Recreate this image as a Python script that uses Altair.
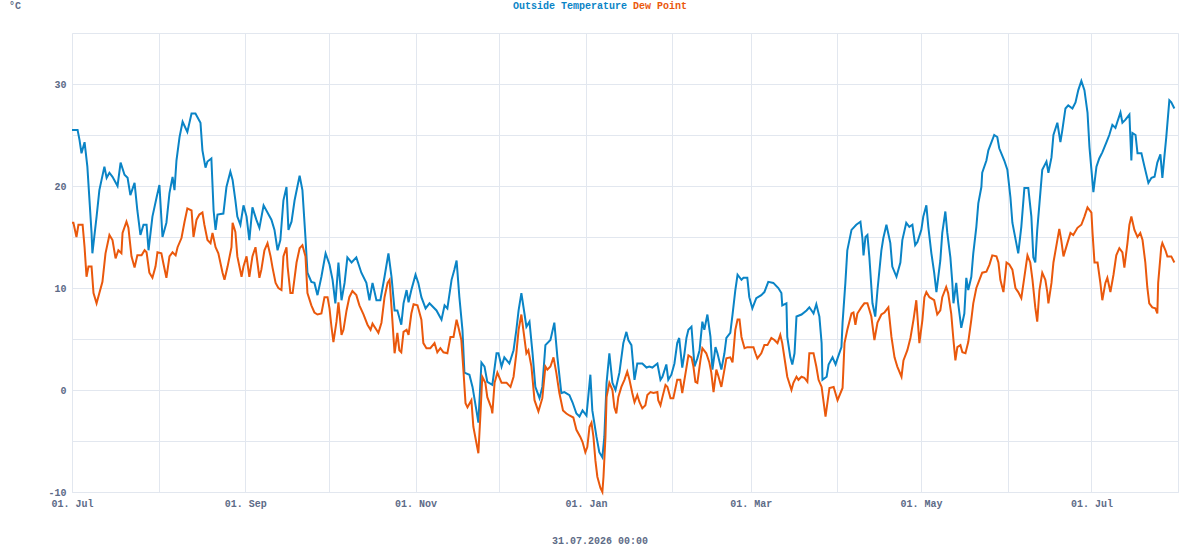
import altair as alt
import pandas as pd

# Outside temperature: day offset from 1 Jul 2025, value in °C
temp_days = [0, 0.5, 2.0, 2.7, 3.4, 4.5, 5.5, 7.0, 7.3, 8.8, 9.8, 11.6, 12.4, 13.4, 14.5, 16.3, 17.4, 18.8, 19.9,
             20.9, 22.4, 23.4, 24.5, 25.6, 26.7, 27.4, 28.8, 30.3, 31.3, 32.4, 33.8, 34.9, 36.0, 36.7, 37.4, 38.5,
             39.6, 41.3, 42.8, 44.2, 46.0, 46.7, 47.8, 48.5, 49.9, 50.7, 51.4, 52.1, 54.2, 55.3, 56.7, 57.5, 58.5,
             59.2, 60.3, 61.4, 62.5, 63.5, 64.6, 66.0, 67.1, 68.6, 71.4, 72.5, 73.6, 74.6, 75.7, 76.8, 77.5, 78.6,
             79.7, 81.5, 82.5, 83.6, 84.3, 85.7, 86.8, 87.9, 89.3, 90.8, 92.2, 93.3, 94.3, 95.4, 96.5, 97.6, 98.6,
             100.1, 101.8, 103.6, 105.4, 106.5, 107.6, 109.0, 110.4, 111.9, 113.3, 114.4, 115.5, 116.5, 117.9,
             118.7, 119.8, 120.5, 121.5, 123.0, 124.0, 125.1, 126.6, 128.0, 130.5, 132.3, 133.4, 134.4, 135.9,
             136.9, 137.7, 138.7, 139.8, 140.5, 142.3, 143.4, 144.8, 145.5, 146.6, 147.7, 148.7, 150.5, 152.0,
             152.7, 153.8, 154.8, 156.6, 158.1, 159.1, 159.9, 160.9, 162.0, 162.7, 163.8, 164.9, 165.9, 167.4,
             168.4, 169.5, 171.3, 172.7, 173.8, 175.2, 176.3, 178.1, 179.2, 180.6, 181.7, 182.8, 184.2, 185.6,
             186.3, 187.8, 188.8, 189.9, 190.6, 191.4, 192.4, 193.5, 194.6, 196.0, 197.4, 198.5, 199.2, 200.3,
             201.4, 202.4, 204.2, 205.7, 206.7, 207.8, 209.6, 210.7, 211.4, 212.8, 213.5, 214.6, 215.7, 216.7,
             217.4, 218.5, 219.3, 220.0, 220.7, 221.8, 222.9, 223.9, 224.7, 225.7, 226.4, 227.5, 228.6, 229.3,
             230.4, 231.1, 232.5, 233.6, 234.3, 235.7, 236.5, 237.5, 238.3, 239.7, 240.4, 241.8, 242.5, 243.6,
             245.0, 246.8, 247.9, 249.3, 251.1, 252.9, 254.0, 254.3, 255.8, 256.1, 257.2, 257.9, 258.7, 259.4,
             261.2, 263.0, 264.0, 264.8, 265.5, 266.5, 267.6, 268.4, 268.7, 270.2, 270.9, 272.3, 273.4, 274.1,
             275.5, 275.9, 276.9, 277.6, 279.1, 280.8, 282.3, 283.0, 283.4, 284.1, 284.8, 285.5, 286.6, 287.6,
             288.4, 289.8, 290.5, 291.6, 293.0, 293.7, 295.2, 296.6, 297.3, 298.7, 299.8, 300.9, 301.9, 302.7,
             304.1, 304.8, 305.9, 306.6, 307.7, 308.7, 309.5, 310.9, 311.6, 312.7, 313.4, 314.5, 315.2, 315.6,
             316.6, 317.3, 318.4, 319.5, 320.2, 320.9, 322.0, 322.7, 323.8, 324.5, 325.6, 325.9, 327.4, 328.1,
             330.2, 331.3, 332.0, 333.8, 334.9, 336.0, 336.7, 338.1, 338.8, 339.9, 341.0, 342.4, 343.5, 344.2,
             344.9, 345.6, 346.4, 347.4, 348.9, 349.6, 350.7, 351.4, 352.8, 353.9, 354.6, 355.7, 356.7, 358.2,
             359.3, 360.3, 361.4, 362.5, 363.6, 364.3, 365.0, 365.7, 366.8, 367.8, 368.9, 370.4, 371.4, 372.5,
             373.6, 374.3, 375.4, 376.1, 377.2, 378.6, 379.3, 379.7, 380.8, 381.5, 382.9, 384.0, 385.4, 386.5,
             387.6, 388.6, 389.7, 390.4, 391.1, 391.8, 392.9, 393.6, 394.7]
temp_vals = [25.5, 25.5, 25.5, 24.5, 23.2, 24.3, 21.9, 15.4, 13.4, 17.0, 19.6, 21.9, 20.8, 21.3, 20.9, 20.0, 22.3,
             21.1, 20.8, 19.1, 20.3, 17.6, 15.2, 16.2, 16.2, 13.7, 17.0, 18.9, 20.1, 15.0, 16.4, 19.3, 20.9, 19.6,
             22.5, 24.8, 26.3, 25.3, 27.1, 27.1, 26.2, 23.5, 21.8, 22.4, 22.7, 17.6, 15.7, 17.2, 17.3, 19.9, 21.4,
             20.6, 18.6, 17.0, 16.2, 18.1, 17.0, 14.7, 17.9, 16.7, 15.9, 18.1, 16.7, 15.7, 13.7, 14.7, 18.6, 19.9,
             15.7, 16.5, 18.6, 21.0, 19.6, 14.9, 11.5, 10.6, 10.5, 9.3, 11.1, 13.4, 12.3, 10.8, 8.5, 12.5, 8.8,
             10.5, 13.0, 12.5, 13.0, 11.5, 10.5, 8.8, 10.5, 8.8, 8.8, 11.1, 13.4, 11.1, 7.8, 7.8, 6.4, 8.5, 9.8,
             8.6, 9.8, 11.3, 10.5, 9.1, 8.0, 8.5, 7.8, 6.9, 8.3, 8.0, 10.8, 11.8, 12.7, 9.1, 5.9, 1.7, 1.5, 0.3,
             -2.0, -3.2, 2.7, 2.3, 0.8, 0.5, 3.6, 3.6, 2.3, 3.2, 2.6, 3.9, 5.9, 7.8, 9.5, 7.5, 6.2, 6.7, 3.6, 0.3,
             -0.8, 0.3, 4.4, 4.9, 6.6, 3.2, -0.3, -0.2, -0.5, -1.2, -2.3, -2.6, -2.0, -2.5, 1.5, -2.0, -4.6, -6.1,
             -6.6, -4.6, 0.7, 3.6, 0.7, 0.0, 1.7, 4.6, 5.7, 4.9, 4.4, 1.0, 2.6, 2.6, 2.2, 2.3, 2.2, 2.6, 1.0, 1.3,
             2.5, 1.0, 1.5, 2.6, 4.6, 5.1, 2.2, 3.6, 5.1, 5.9, 6.2, 2.3, 3.1, 3.9, 6.7, 5.9, 7.4, 5.2, 2.0, 4.2,
             3.6, 2.0, 3.6, 5.1, 5.6, 7.4, 9.8, 11.3, 10.8, 11.0, 11.0, 9.1, 8.0, 9.0, 9.3, 9.6, 10.6, 10.5, 10.0,
             9.5, 8.3, 8.5, 5.2, 3.2, 2.5, 3.6, 7.2, 7.4, 7.8, 8.1, 7.8, 7.5, 8.4, 7.2, 4.6, 1.0, 1.3, 2.5, 3.2,
             2.5, 3.1, 4.2, 6.6, 10.5, 13.7, 15.7, 16.2, 16.5, 14.9, 13.2, 15.0, 15.2, 13.0, 8.5, 7.2, 9.8, 13.7,
             14.9, 16.2, 14.4, 12.1, 11.1, 12.5, 14.7, 16.4, 16.0, 16.2, 14.2, 14.5, 15.7, 17.0, 18.1, 16.0, 13.4,
             11.5, 9.6, 12.7, 15.4, 17.5, 15.4, 13.0, 10.5, 8.5, 10.5, 8.5, 6.1, 7.5, 11.0, 9.8, 11.1, 13.4, 16.0,
             18.3, 19.9, 21.3, 22.5, 23.5, 25.0, 24.8, 23.7, 22.5, 21.6, 18.9, 16.4, 14.4, 13.4, 16.0, 19.8, 19.8,
             17.0, 13.0, 12.5, 15.7, 18.3, 21.6, 22.4, 21.3, 22.8, 25.0, 26.2, 24.3, 25.5, 27.6, 27.9, 27.6, 28.2,
             29.4, 30.3, 29.4, 27.2, 23.8, 21.6, 19.4, 21.9, 22.7, 23.3, 24.3, 25.0, 26.0, 25.7, 26.3, 27.2, 26.2,
             26.5, 27.0, 22.5, 25.2, 25.0, 23.2, 23.2, 21.9, 20.3, 20.8, 20.9, 22.3, 23.1, 20.8, 22.8, 24.8, 28.4,
             28.2, 27.6]

# Dew point: day offset from 1 Jul 2025, value in °C
dew_days = [0, 0.5, 1.6, 2.3, 3.8, 4.5, 5.2, 5.9, 7.0, 7.7, 8.8, 9.8, 10.9, 12.0, 13.4, 14.5, 15.6, 16.6, 17.7,
            18.1, 19.5, 20.2, 21.3, 22.4, 23.4, 24.9, 26.0, 26.7, 27.7, 28.8, 29.9, 30.6, 32.0, 32.8, 33.8, 34.9,
            36.0, 37.1, 37.8, 39.2, 40.3, 41.3, 42.8, 43.5, 44.6, 45.6, 46.7, 47.4, 48.5, 49.6, 50.3, 51.4, 52.4,
            53.9, 54.6, 55.7, 57.1, 57.5, 58.5, 59.2, 60.7, 61.4, 62.5, 63.5, 64.6, 65.7, 66.4, 67.1, 67.8, 68.9,
            70.0, 71.1, 71.8, 72.9, 73.9, 75.0, 75.7, 76.8, 77.2, 78.2, 79.0, 80.4, 81.5, 82.5, 83.6, 84.3, 85.7,
            86.8, 87.9, 89.3, 90.4, 91.5, 92.2, 92.9, 93.6, 94.7, 95.4, 96.5, 97.2, 98.3, 99.3, 100.4, 101.8,
            102.9, 104.4, 105.8, 106.9, 107.6, 109.0, 109.7, 110.8, 111.9, 113.0, 113.7, 114.4, 115.5, 116.5,
            117.2, 117.9, 118.7, 119.8, 120.5, 121.5, 122.3, 123.7, 125.1, 125.8, 126.9, 128.3, 129.8, 130.8,
            131.9, 133.0, 134.4, 135.5, 136.6, 137.7, 138.4, 139.4, 140.2, 140.9, 141.6, 143.0, 143.7, 144.8,
            145.5, 146.2, 146.9, 148.0, 148.7, 150.2, 150.5, 151.3, 152.3, 153.8, 155.6, 157.0, 158.1, 159.1,
            159.9, 160.9, 161.6, 162.7, 163.4, 164.5, 165.6, 167.0, 168.4, 169.5, 170.2, 171.3, 172.4, 173.4,
            174.5, 175.8, 177.0, 178.1, 179.5, 180.6, 182.0, 182.8, 183.8, 184.5, 185.3, 186.0, 186.7, 187.4,
            188.1, 189.2, 189.9, 190.3, 191.0, 191.4, 192.4, 193.5, 194.2, 194.9, 195.6, 196.7, 197.8, 198.8,
            199.6, 200.6, 201.4, 202.4, 203.2, 204.2, 205.3, 206.0, 207.1, 208.2, 209.6, 209.9, 210.7, 211.4,
            212.5, 213.2, 214.3, 215.3, 216.7, 217.8, 218.5, 220.0, 220.7, 221.8, 222.5, 223.2, 223.9, 225.0,
            225.7, 227.1, 228.2, 228.9, 229.7, 230.7, 231.5, 232.5, 233.6, 234.3, 235.7, 236.5, 237.5, 238.3,
            239.0, 239.7, 240.8, 241.8, 244.0, 244.7, 245.4, 246.8, 247.9, 249.0, 250.4, 251.5, 252.6, 253.6,
            254.3, 255.4, 256.1, 257.6, 258.3, 259.4, 260.1, 261.2, 262.2, 263.3, 264.0, 265.5, 266.5, 267.3,
            268.4, 269.8, 271.2, 272.7, 274.1, 275.9, 276.6, 277.6, 279.1, 279.8, 280.5, 281.2, 282.6, 283.7,
            284.8, 286.2, 287.3, 288.4, 289.8, 290.9, 292.3, 293.4, 294.5, 295.5, 297.0, 297.7, 299.1, 300.2,
            301.3, 302.3, 303.4, 304.5, 305.2, 305.9, 307.0, 308.7, 309.8, 310.9, 311.6, 313.0, 313.7, 314.8,
            315.6, 316.3, 317.0, 318.1, 318.8, 319.9, 320.9, 322.0, 322.7, 323.8, 324.9, 325.9, 327.4, 328.5,
            329.5, 331.0, 331.7, 332.4, 333.5, 334.6, 335.6, 336.7, 337.8, 338.8, 339.9, 341.0, 342.1, 343.1,
            343.9, 344.9, 345.6, 346.4, 347.4, 348.5, 349.2, 349.6, 350.7, 351.4, 352.8, 353.5, 354.2, 355.0,
            356.4, 357.5, 358.5, 360.0, 361.4, 362.5, 363.6, 365.0, 365.4, 366.1, 367.2, 368.2, 368.9, 370.0,
            370.7, 371.8, 372.9, 373.9, 375.0, 376.1, 376.8, 377.9, 378.6, 379.3, 380.4, 381.5, 382.5, 383.3,
            384.3, 385.0, 385.7, 386.8, 387.9, 388.6, 388.9, 390.0, 390.4, 391.5, 392.2, 393.6, 394.7]
dew_vals = [16.4, 16.4, 15.0, 16.2, 16.2, 14.0, 11.1, 12.1, 12.1, 9.5, 8.5, 9.5, 10.6, 13.4, 15.2, 14.7, 12.9, 13.7,
            13.4, 15.4, 16.5, 15.9, 13.1, 12.0, 13.2, 13.2, 13.7, 13.5, 11.5, 11.0, 12.1, 13.5, 13.4, 12.3, 11.0,
            13.1, 13.5, 13.2, 14.0, 14.9, 16.5, 17.8, 17.6, 15.0, 16.7, 17.2, 17.4, 16.2, 14.7, 14.4, 15.4, 14.0,
            13.4, 11.5, 10.8, 12.1, 14.0, 16.4, 15.5, 13.1, 11.1, 12.1, 13.1, 11.1, 13.1, 14.0, 12.5, 11.0, 11.8,
            13.7, 14.4, 13.1, 12.0, 10.5, 10.0, 9.8, 13.1, 14.0, 12.1, 9.5, 9.5, 12.5, 13.9, 14.2, 13.1, 9.5, 8.3,
            7.6, 7.4, 7.5, 9.1, 9.1, 8.0, 6.2, 4.7, 6.7, 8.6, 5.4, 5.9, 7.8, 9.1, 9.7, 9.3, 8.3, 7.4, 6.4, 5.9,
            6.5, 5.9, 5.6, 6.6, 9.1, 10.5, 10.8, 8.1, 3.6, 5.6, 3.9, 3.7, 5.7, 5.9, 5.4, 7.5, 8.4, 8.3, 6.9, 4.6,
            4.1, 4.1, 4.6, 3.7, 4.1, 3.7, 3.6, 5.2, 5.2, 6.9, 6.1, 4.9, 1.7, -1.3, -1.7, -1.0, -3.6, -5.2, -6.2,
            -2.6, 1.3, 0.7, -0.7, -1.8, -2.3, 0.7, 1.7, 0.7, 0.7, 0.3, 1.3, 3.6, 5.9, 7.4, 5.9, 3.6, 3.9, 2.3,
            -1.0, -2.1, -0.8, 2.3, 2.0, 2.3, 3.2, 1.7, -0.3, -2.0, -2.3, -2.5, -2.7, -3.9, -4.6, -5.1, -6.1, -5.6,
            -3.6, -3.2, -4.6, -6.9, -8.5, -9.6, -10.0, -8.5, -4.6, -0.7, 0.7, 0.0, -1.7, -2.3, -0.7, 0.3, 1.0,
            1.8, 1.0, -0.3, -1.2, -0.5, -1.2, -1.8, -1.5, -0.5, -0.2, -0.3, -0.2, -1.0, -1.5, -0.7, 0.5, 0.3,
            -0.8, -0.8, 1.0, 1.0, -0.3, 2.2, 3.4, 3.2, 2.3, 0.8, 0.7, 2.9, 4.1, 3.6, 2.7, 1.7, -0.2, 2.0, 1.3,
            0.3, 2.0, 3.1, 3.2, 2.7, 5.9, 6.9, 6.9, 5.2, 4.1, 4.2, 4.2, 3.6, 3.1, 3.6, 4.4, 4.4, 5.1, 4.9, 4.6,
            5.4, 4.6, 2.6, 1.3, 0.0, 0.7, 1.3, 1.0, 1.3, 1.2, 0.8, 3.6, 3.6, 2.3, 1.0, 0.3, -2.6, 0.2, 0.3, -1.0,
            0.2, 4.6, 5.9, 7.5, 7.6, 6.4, 7.5, 8.1, 8.5, 8.5, 7.2, 4.9, 6.6, 7.4, 7.6, 8.1, 5.2, 3.2, 2.3, 1.3,
            2.9, 3.9, 5.1, 6.9, 8.8, 4.6, 6.9, 9.1, 9.6, 9.1, 8.8, 7.4, 7.8, 9.1, 10.1, 9.5, 7.5, 4.9, 2.9, 4.2,
            4.4, 3.7, 3.6, 4.7, 6.9, 8.5, 10.0, 10.8, 11.5, 11.6, 12.3, 13.2, 13.1, 12.5, 10.8, 9.6, 12.5, 12.3,
            11.8, 10.0, 9.6, 9.0, 11.1, 13.2, 12.5, 10.8, 8.1, 6.7, 9.8, 11.5, 10.8, 9.6, 8.5, 10.5, 12.5, 14.7,
            15.8, 14.7, 13.1, 14.4, 15.4, 15.2, 15.9, 16.2, 17.0, 17.9, 17.4, 15.4, 12.5, 12.5, 10.5, 8.8, 10.5,
            11.0, 9.6, 11.3, 13.2, 13.9, 13.5, 12.0, 14.4, 16.2, 17.0, 15.7, 15.0, 15.4, 14.7, 12.5, 10.1, 8.5,
            8.1, 8.0, 7.5, 10.5, 14.0, 14.4, 13.7, 13.1, 13.1, 12.5]

SERIES = ["Outside Temperature", "Dew Point"]
COLORS = ["#0a84c6", "#ea580c"]
TEXT = "#5d6b87"
GRID = "#e2e7ef"
FONT = "Liberation Mono"

start = pd.Timestamp("2025-07-01")


def frame(days, vals, name):
    stamps = start + pd.to_timedelta(days, unit="D")
    return pd.DataFrame({
        "time": stamps.strftime("%Y-%m-%dT%H:%M:%S"),
        "value": vals,
        "series": name,
    })


data = pd.concat([frame(temp_days, temp_vals, SERIES[0]),
                  frame(dew_days, dew_vals, SERIES[1])], ignore_index=True)

month_starts = [alt.DateTime(year=2025 + (6 + i) // 12, month=(6 + i) % 12 + 1, date=1) for i in range(14)]

x_enc = alt.X(
    "time:T",
    scale=alt.Scale(domain=[alt.DateTime(year=2025, month=7, date=1),
                            alt.DateTime(year=2026, month=8, date=1)]),
    axis=alt.Axis(
        values=month_starts,
        labelExpr="month(datum.value) % 2 == 0 && datum.value < datetime(2026, 7, 15) ? timeFormat(datum.value, '%d. %b') : ''",
        title=None,
        labelFlush=False,
        labelOverlap=False,
        labelPadding=6,
    ),
)
y_enc = alt.Y(
    "value:Q",
    scale=alt.Scale(domain=[-10, 35], nice=False, zero=False),
    axis=alt.Axis(
        values=list(range(-10, 35, 5)),
        labelExpr="datum.value % 10 == 0 ? datum.value : ''",
        title=None,
        labelPadding=6,
    ),
)

lines = alt.Chart(data).mark_line(strokeWidth=2, interpolate="linear").encode(
    x=x_enc,
    y=y_enc,
    color=alt.Color("series:N", scale=alt.Scale(domain=SERIES, range=COLORS), legend=None),
    detail="series:N",
)

txt = dict(font=FONT, fontWeight="bold", fontSize=10, baseline="middle", align="left")

unit = alt.Chart(pd.DataFrame({"t": ["°C"]})).mark_text(color=TEXT, **txt).encode(
    text="t:N", x=alt.value(-63), y=alt.value(-27))
head1 = alt.Chart(pd.DataFrame({"t": [SERIES[0]]})).mark_text(color=COLORS[0], **txt).encode(
    text="t:N", x=alt.value(441), y=alt.value(-27))
head2 = alt.Chart(pd.DataFrame({"t": [SERIES[1]]})).mark_text(color=COLORS[1], **txt).encode(
    text="t:N", x=alt.value(561), y=alt.value(-27))
stamp = alt.Chart(pd.DataFrame({"t": ["31.07.2026 00:00"]})).mark_text(
    color=TEXT, font=FONT, fontWeight="bold", fontSize=10, baseline="middle", align="center").encode(
    text="t:N", x=alt.value(528), y=alt.value(508))

chart = alt.layer(lines, unit, head1, head2, stamp).properties(
    width=1106,
    height=459,
    autosize=alt.AutoSizeParams(type="none"),
    padding={"left": 72, "top": 33, "right": 22, "bottom": 58},
    background="white",
).configure_view(
    stroke=GRID, strokeWidth=1,
).configure_axis(
    grid=True, gridColor=GRID, gridWidth=1,
    domain=False, ticks=False,
    labelFont=FONT, labelFontWeight="bold", labelFontSize=10, labelColor=TEXT,
)

chart.save("out.html", embed_options={"renderer": "svg", "actions": False})
